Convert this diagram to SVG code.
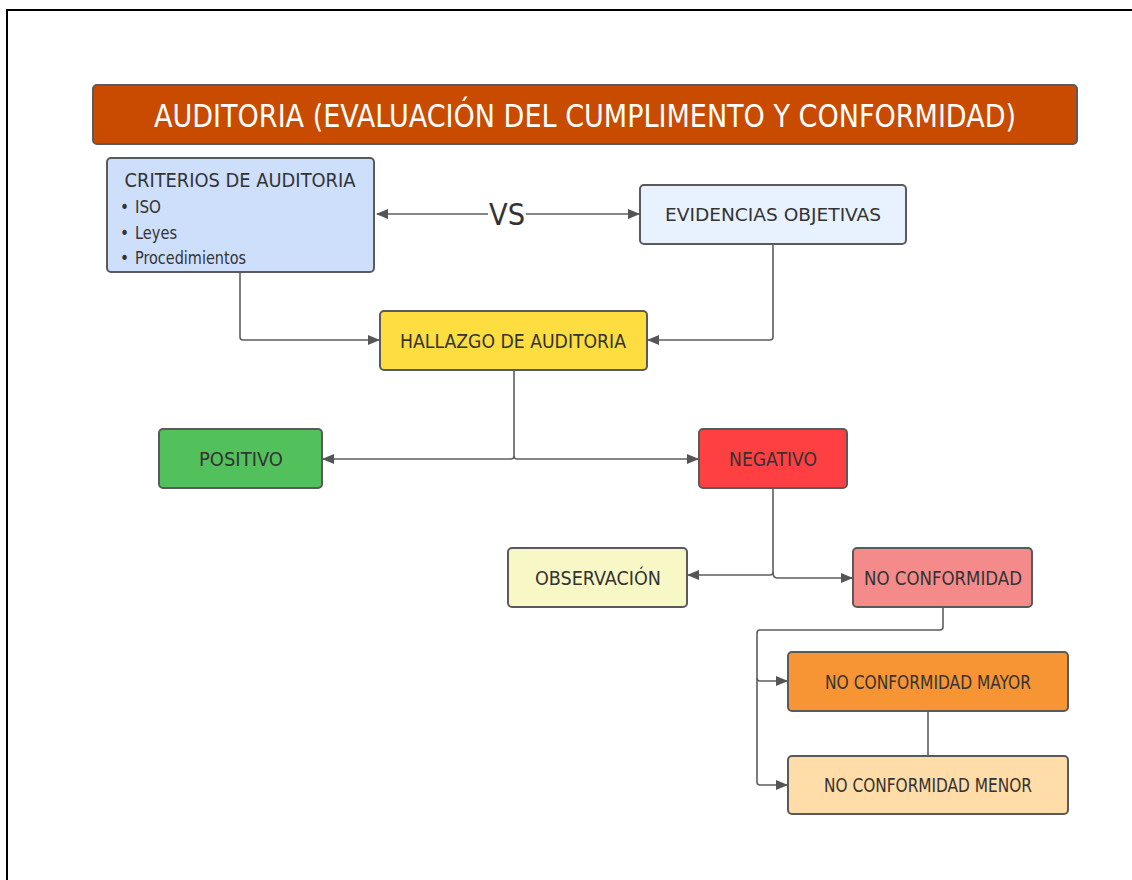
<svg xmlns="http://www.w3.org/2000/svg" width="1132" height="880" viewBox="0 0 1132 880">
<defs>
<marker id="ah" markerWidth="12" markerHeight="10" refX="11" refY="5" orient="auto" markerUnits="userSpaceOnUse">
<path d="M0,0 L12,5 L0,10 Z" fill="#555"/>
</marker>
<style>
.box{stroke:#5a5a5a;stroke-width:2}
.t{font-family:"DejaVu Sans Condensed","DejaVu Sans",sans-serif;fill:#333;text-anchor:middle}
.tb{font-weight:500}
.c{fill:none;stroke:#5e5e5e;stroke-width:1.6}
</style>
</defs>
<rect width="1132" height="880" fill="#fff"/>
<path d="M7,880 V10 H1132" fill="none" stroke="#000" stroke-width="2"/>

<g id="title">
<rect class="box" x="93" y="85" width="984" height="59" rx="4" fill="#C84B00"/>
<text class="t" x="585" y="127" font-size="32" style="fill:#fff" textLength="862" lengthAdjust="spacingAndGlyphs">AUDITORIA (EVALUACIÓN DEL CUMPLIMENTO Y CONFORMIDAD)</text>
</g>

<g id="criterios">
<rect class="box" x="107" y="158" width="267" height="114" rx="4" fill="#CEDFFB"/>
<text class="t" x="240" y="187" font-size="20" textLength="231" lengthAdjust="spacingAndGlyphs">CRITERIOS  DE AUDITORIA</text>
<text class="t" x="120" y="213" font-size="17" style="text-anchor:start">•</text>
<text class="t" x="135" y="213" font-size="17" style="text-anchor:start" textLength="26" lengthAdjust="spacingAndGlyphs">ISO</text>
<text class="t" x="120" y="239" font-size="17" style="text-anchor:start">•</text>
<text class="t" x="135" y="239" font-size="17" style="text-anchor:start" textLength="42" lengthAdjust="spacingAndGlyphs">Leyes</text>
<text class="t" x="120" y="264" font-size="17" style="text-anchor:start">•</text>
<text class="t" x="135" y="264" font-size="17" style="text-anchor:start" textLength="111" lengthAdjust="spacingAndGlyphs">Procedimientos</text>
</g>

<g id="evidencias">
<rect class="box" x="640" y="185" width="266" height="59" rx="4" fill="#E8F2FE"/>
<text class="t" x="773" y="221" font-size="18" textLength="216" lengthAdjust="spacingAndGlyphs">EVIDENCIAS  OBJETIVAS</text>
</g>

<g id="hallazgo">
<rect class="box" x="380" y="311" width="267" height="59" rx="4" fill="#FDDD3F"/>
<text class="t tb" x="513" y="348" font-size="19" textLength="226" lengthAdjust="spacingAndGlyphs">HALLAZGO DE AUDITORIA</text>
</g>

<g id="positivo">
<rect class="box" x="159" y="429" width="163" height="59" rx="4" fill="#52C15B"/>
<text class="t tb" x="241" y="466" font-size="19" textLength="84" lengthAdjust="spacingAndGlyphs">POSITIVO</text>
</g>

<g id="negativo">
<rect class="box" x="699" y="429" width="148" height="59" rx="4" fill="#FF4042"/>
<text class="t tb" x="773" y="466" font-size="19" textLength="88" lengthAdjust="spacingAndGlyphs">NEGATIVO</text>
</g>

<g id="observacion">
<rect class="box" x="508" y="548" width="179" height="59" rx="4" fill="#F8F8C6"/>
<text class="t tb" x="598" y="585" font-size="19" textLength="126" lengthAdjust="spacingAndGlyphs">OBSERVACIÓN</text>
</g>

<g id="noconformidad">
<rect class="box" x="853" y="548" width="179" height="59" rx="4" fill="#F48B8A"/>
<text class="t tb" x="943" y="585" font-size="19" textLength="158" lengthAdjust="spacingAndGlyphs">NO CONFORMIDAD</text>
</g>

<g id="ncmayor">
<rect class="box" x="788" y="652" width="280" height="59" rx="4" fill="#F79433"/>
<text class="t" x="928" y="689" font-size="19" style="font-weight:300" textLength="206" lengthAdjust="spacingAndGlyphs">NO CONFORMIDAD MAYOR</text>
</g>

<g id="ncmenor">
<rect class="box" x="788" y="756" width="280" height="58" rx="4" fill="#FFDCA8"/>
<text class="t" x="928" y="792" font-size="19" style="font-weight:300" textLength="208" lengthAdjust="spacingAndGlyphs">NO CONFORMIDAD MENOR</text>
</g>

<g id="vs">
<text class="t" x="507" y="225" font-size="31" textLength="36" lengthAdjust="spacingAndGlyphs">VS</text>
</g>

<g id="connectors">
<path class="c" d="M488,214 H377" marker-end="url(#ah)"/>
<path class="c" d="M526,214 H639" marker-end="url(#ah)"/>
<path class="c" d="M240,272 V337 Q240,340 243,340 H379" marker-end="url(#ah)"/>
<path class="c" d="M773,244 V337 Q773,340 770,340 H648" marker-end="url(#ah)"/>
<path class="c" d="M514,370 V456 Q514,459 511,459 H323" marker-end="url(#ah)"/>
<path class="c" d="M514,456 Q514,459 517,459 H698" marker-end="url(#ah)"/>
<path class="c" d="M773,488 V572 Q773,575 770,575 H688" marker-end="url(#ah)"/>
<path class="c" d="M773,572 Q773,578 777,578 H852" marker-end="url(#ah)"/>
<path class="c" d="M943,607 V627 Q943,630 940,630 H760 Q757,630 757,633 V678 Q757,681 760,681 H787" marker-end="url(#ah)"/>
<path class="c" d="M757,678 V782 Q757,785 760,785 H787" marker-end="url(#ah)"/>
<path class="c" d="M928,711 V756"/>
</g>
</svg>
